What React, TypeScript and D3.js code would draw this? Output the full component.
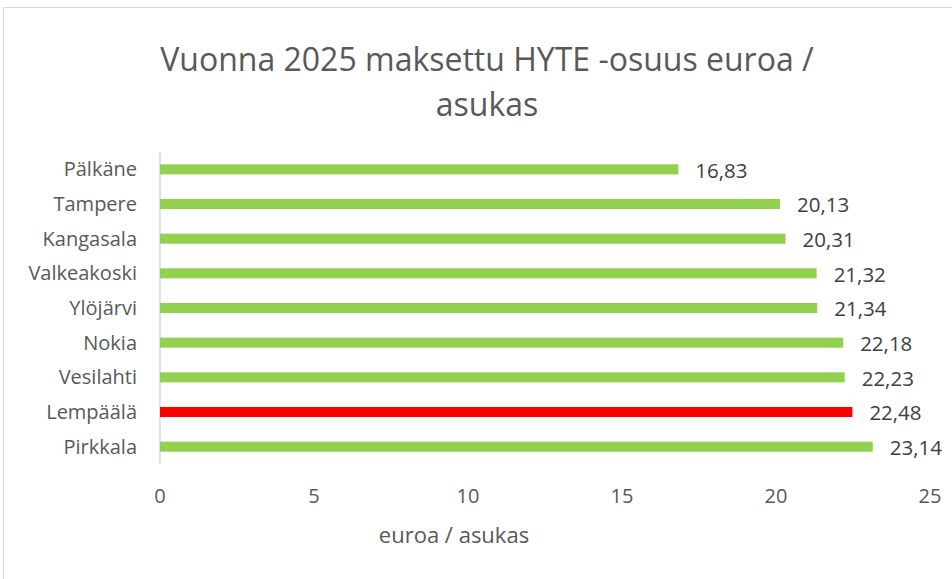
import * as d3 from "d3";
import React from "react";

// data, top to bottom as drawn
const municipalities = ["Pälkäne", "Tampere", "Kangasala", "Valkeakoski", "Ylöjärvi", "Nokia", "Vesilahti", "Lempäälä", "Pirkkala"];
const euroPerResident = [16.83, 20.13, 20.31, 21.32, 21.34, 22.18, 22.23, 22.48, 23.14];
const highlighted = ["Lempäälä"];
const xTicks = [0, 5, 10, 15, 20, 25];
const titleLines = ["Vuonna 2025 maksettu HYTE -osuus euroa /", "asukas"];
const axisTitle = "euroa / asukas";

const W = 952;
const H = 579;
const font = "'Open Sans', sans-serif";

export default function App() {
    const x = d3.scaleLinear().domain([0, 25]).range([160, 930]);
    const y = d3.scaleBand().domain(municipalities).range([152, 464]).paddingInner(0.71).paddingOuter(0.355);
    const fmt = (v: number) => v.toFixed(2).replace(".", ",");

    return (
        <svg width={W} height={H} style={{ position: "absolute", left: 0, top: 0 }}>
            <rect x={3.5} y={7.5} width={W + 10} height={H + 10} fill="#fff" stroke="#d9d9d9" />
            {titleLines.map((t, i) => (
                <text key={t} x={487} y={71 + i * 45} textAnchor="middle" fontFamily={font} fontSize={32} fill="#595959">
                    {t}
                </text>
            ))}
            {/* category axis line */}
            <line x1={x(0)} x2={x(0)} y1={152} y2={464} stroke="#d9d9d9" strokeWidth={1.5} />
            {municipalities.map((m, i) => (
                <g key={m}>
                    <text x={137} y={y(m)! + y.bandwidth() / 2} dy="0.35em" textAnchor="end" fontFamily={font} fontSize={20} fill="#595959">
                        {m}
                    </text>
                    <rect
                        x={x(0)}
                        y={y(m)}
                        width={x(euroPerResident[i]) - x(0)}
                        height={y.bandwidth()}
                        fill={highlighted.includes(m) ? "#ff0000" : "#92d050"}
                    />
                    <text x={x(euroPerResident[i]) + 17} y={y(m)! + y.bandwidth() / 2 + 1} dy="0.35em" fontFamily={font} fontSize={20.5} fill="#404040">
                        {fmt(euroPerResident[i])}
                    </text>
                </g>
            ))}
            {xTicks.map(t => (
                <text key={t} x={x(t)} y={496} dy="0.35em" textAnchor="middle" fontFamily={font} fontSize={20} fill="#595959">
                    {t}
                </text>
            ))}
            <text x={454} y={535} dy="0.35em" textAnchor="middle" fontFamily={font} fontSize={22} fill="#595959">
                {axisTitle}
            </text>
        </svg>
    );
}
